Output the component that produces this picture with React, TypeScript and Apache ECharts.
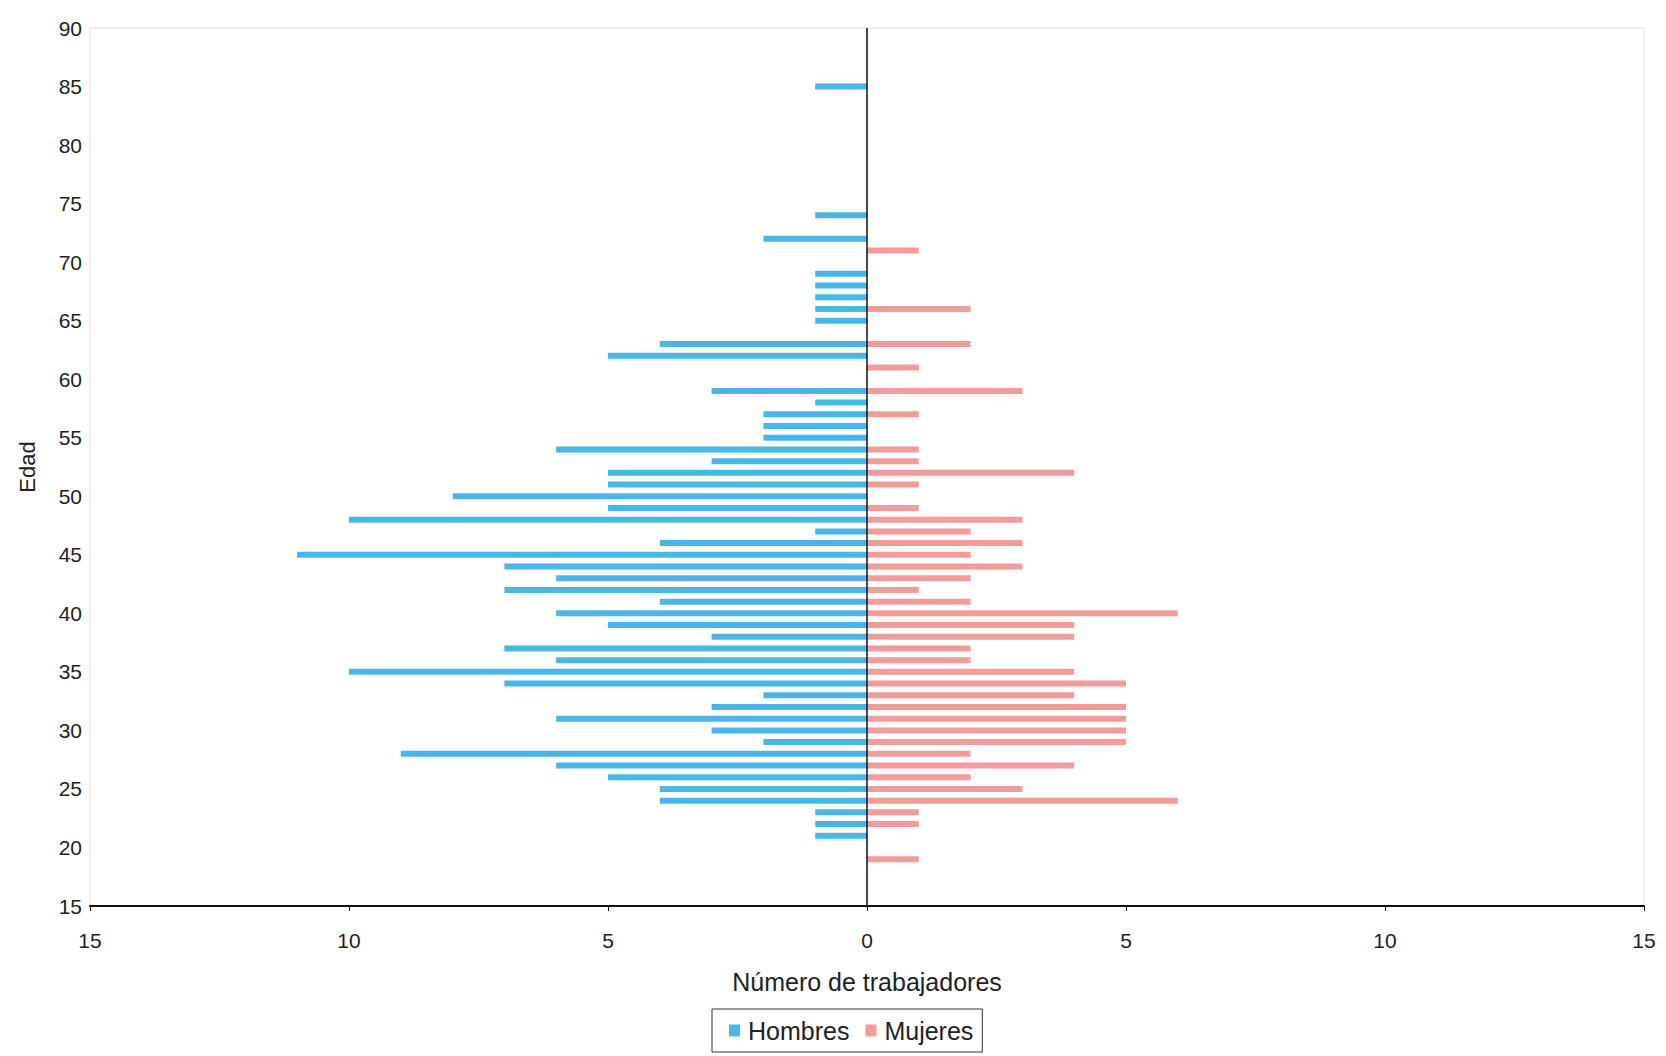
import React, { useEffect, useRef } from "react";
import * as echarts from "echarts";

// Eje de edades (categorías 15..90)
const EDAD_MIN = 15;
const EDAD_MAX = 90;
const edades = Array.from({ length: EDAD_MAX - EDAD_MIN + 1 }, (_, i) => String(EDAD_MIN + i));

// Hombres: edad -> número de trabajadores
const edadesHombres = [85, 74, 72, 69, 68, 67, 66, 65, 63, 62, 59, 58, 57, 56, 55, 54, 53, 52, 51, 50, 49, 48, 47, 46, 45, 44, 43, 42, 41, 40, 39, 38, 37, 36, 35, 34, 33, 32, 31, 30, 29, 28, 27, 26, 25, 24, 23, 22, 21];
const hombres = [1, 1, 2, 1, 1, 1, 1, 1, 4, 5, 3, 1, 2, 2, 2, 6, 3, 5, 5, 8, 5, 10, 1, 4, 11, 7, 6, 7, 4, 6, 5, 3, 7, 6, 10, 7, 2, 3, 6, 3, 2, 9, 6, 5, 4, 4, 1, 1, 1];

// Mujeres: edad -> número de trabajadoras
const edadesMujeres = [71, 66, 63, 61, 59, 57, 54, 53, 52, 51, 49, 48, 47, 46, 45, 44, 43, 42, 41, 40, 39, 38, 37, 36, 35, 34, 33, 32, 31, 30, 29, 28, 27, 26, 25, 24, 23, 22, 19];
const mujeres = [1, 2, 2, 1, 3, 1, 1, 1, 4, 1, 1, 3, 2, 3, 2, 3, 2, 1, 2, 6, 4, 4, 2, 2, 4, 5, 4, 5, 5, 5, 5, 2, 4, 2, 3, 6, 1, 1, 1];

const xTicks = { min: -15, max: 15, interval: 5 };

const COLOR_H = "#48b6e8";
const COLOR_M = "#f39a9a";
const FONT = "Liberation Sans, Arial, sans-serif";

function buildSeries(ed: number[], vals: number[], sign: number) {
  const m = new Map<string, number>();
  ed.forEach((e, i) => m.set(String(e), sign * vals[i]));
  return edades.map((e) => (m.has(e) ? m.get(e)! : null));
}

export default function App() {
  const ref = useRef<HTMLDivElement>(null);
  useEffect(() => {
    if (!ref.current) return;
    const chart = echarts.init(ref.current, undefined, { renderer: "svg" });
    chart.setOption({
      animation: false,
      backgroundColor: "#ffffff",
      textStyle: { fontFamily: FONT },
      grid: {
        left: 90,
        right: 22,
        top: 28,
        bottom: 150,
        show: true,
        borderColor: "#dedede",
        borderWidth: 1,
      },
      legend: {
        left: 712,
        top: 1009,
        orient: "horizontal",
        data: ["Hombres", "Mujeres"],
        icon: "rect",
        itemWidth: 11,
        itemHeight: 12,
        itemGap: 16,
        padding: [9, 9, 9, 17],
        borderColor: "#333",
        borderWidth: 1,
        textStyle: { fontSize: 25, color: "#222", fontFamily: FONT, padding: [0, 0, 0, 3] },
      },
      xAxis: {
        type: "value",
        min: xTicks.min,
        max: xTicks.max,
        interval: xTicks.interval,
        name: "Número de trabajadores",
        nameLocation: "middle",
        nameGap: 63,
        nameTextStyle: { fontSize: 25, color: "#222", fontFamily: FONT },
        axisLine: { show: true, onZero: false, lineStyle: { color: "#111", width: 2 } },
        axisTick: { show: true, inside: false, length: 5, lineStyle: { color: "#111" } },
        axisLabel: {
          fontSize: 21,
          color: "#222",
          margin: 24,
          formatter: (v: number) => String(Math.abs(v)),
        },
        splitLine: { show: false },
      },
      yAxis: {
        type: "category",
        data: edades,
        boundaryGap: false,
        name: "Edad",
        nameLocation: "middle",
        nameRotate: 90,
        nameGap: 52,
        nameTextStyle: { fontSize: 22, color: "#222", fontFamily: FONT },
        axisLine: { show: false },
        axisTick: { show: false },
        axisLabel: { interval: 4, fontSize: 21, color: "#222", margin: 8 },
        splitLine: { show: false },
      },
      series: [
        {
          name: "Hombres",
          type: "bar",
          barWidth: 6,
          barGap: "-100%",
          itemStyle: { color: COLOR_H },
          data: buildSeries(edadesHombres, hombres, -1),
          markLine: {
            silent: true,
            symbol: "none",
            label: { show: false },
            lineStyle: { color: "#111", width: 1.5, type: "solid" },
            data: [{ xAxis: 0 }],
          },
        },
        {
          name: "Mujeres",
          type: "bar",
          barWidth: 6,
          barGap: "-100%",
          itemStyle: { color: COLOR_M },
          data: buildSeries(edadesMujeres, mujeres, 1),
        },
      ],
    });
    return () => chart.dispose();
  }, []);
  return (
    <div
      ref={ref}
      style={{ position: "absolute", left: 0, top: 0, width: 1666, height: 1056, background: "#fff" }}
    />
  );
}
